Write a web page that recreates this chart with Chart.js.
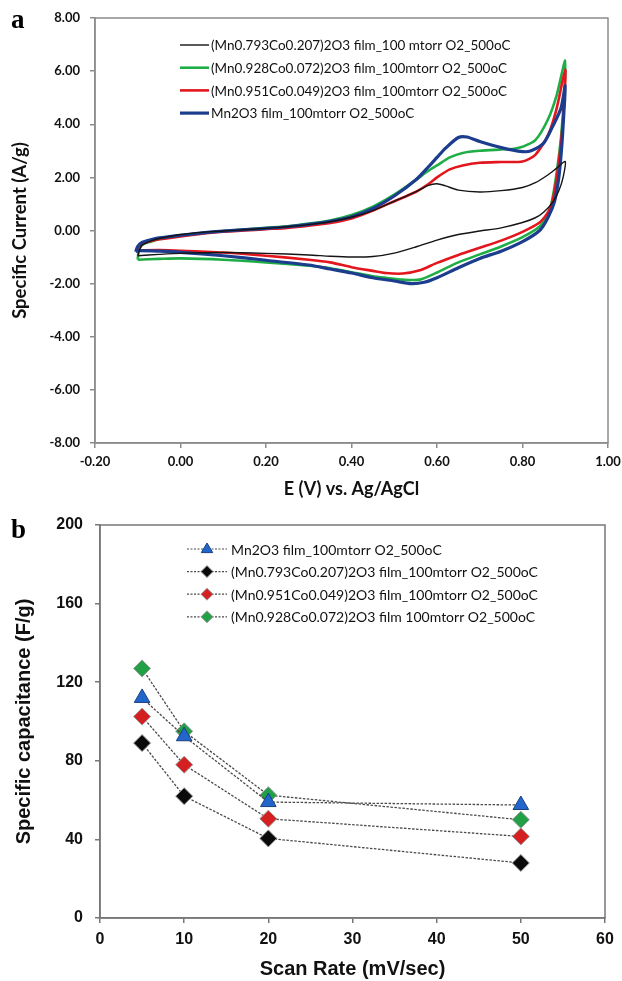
<!DOCTYPE html>
<html><head><meta charset="utf-8">
<script src="https://cdn.jsdelivr.net/npm/chart.js@4.4.1/dist/chart.umd.min.js"></script>
<style>
html,body{margin:0;padding:0;background:#fff;}
#wrap{position:relative;width:622px;height:981px;overflow:hidden;background:#fff;}
.panel{position:absolute;left:0;width:622px;}
.lbl{position:absolute;font-family:"Liberation Serif","DejaVu Serif",serif;font-weight:bold;font-size:27px;line-height:27px;}
</style></head><body>
<div id="wrap">
<div class="panel" style="top:0;height:500px"><canvas id="cA" width="622" height="500"></canvas></div>
<div class="panel" style="top:500px;height:481px"><canvas id="cB" width="622" height="481"></canvas></div>
<div class="lbl" style="left:11px;top:6px">a</div>
<div class="lbl" style="left:11px;top:516px">b</div>
</div>
<script>
// ---------- Panel a: cyclic voltammograms ----------
const cvXTicks = [-0.2, 0.0, 0.2, 0.4, 0.6, 0.8, 1.0];
const cvYTicks = [-8, -6, -4, -2, 0, 2, 4, 6, 8];

const cvLabels = [
  "(Mn0.793Co0.207)2O3 film_100 mtorr O2_500oC",
  "(Mn0.928Co0.072)2O3 film_100mtorr O2_500oC",
  "(Mn0.951Co0.049)2O3 film_100mtorr O2_500oC",
  "Mn2O3 film_100mtorr O2_500oC"
];

// black: (Mn0.793Co0.207)2O3
const cv793E = [-0.10,-0.095,-0.09,-0.07,-0.05,0.00,0.05,0.10,0.15,0.20,0.25,0.30,0.35,0.40,0.45,0.50,0.55,0.58,0.60,0.62,0.65,0.70,0.75,0.80,0.83,0.86,0.88,0.90,
  0.895,0.885,0.87,0.85,0.83,0.80,0.75,0.70,0.65,0.60,0.55,0.50,0.45,0.40,0.35,0.30,0.20,0.10,0.00,-0.05,-0.10];
const cv793I = [-0.95,-0.70,-0.55,-0.40,-0.30,-0.15,-0.07,-0.02,0.03,0.08,0.14,0.22,0.33,0.50,0.75,1.10,1.45,1.70,1.76,1.68,1.52,1.45,1.50,1.62,1.80,2.10,2.35,2.60,
  2.00,1.50,1.05,0.70,0.48,0.30,0.10,-0.02,-0.15,-0.36,-0.62,-0.85,-0.98,-1.00,-0.97,-0.92,-0.86,-0.83,-0.86,-0.90,-0.95];

// green: (Mn0.928Co0.072)2O3
const cv928E = [-0.10,-0.098,-0.09,-0.07,-0.05,0.00,0.05,0.10,0.15,0.20,0.25,0.30,0.35,0.40,0.45,0.50,0.55,0.58,0.60,0.63,0.66,0.70,0.75,0.78,0.80,0.83,0.86,0.88,0.90,
  0.897,0.89,0.88,0.87,0.86,0.84,0.80,0.75,0.70,0.65,0.60,0.56,0.52,0.48,0.45,0.40,0.35,0.30,0.20,0.10,0.00,-0.05,-0.10];
const cv928I = [-1.10,-0.80,-0.55,-0.42,-0.33,-0.20,-0.10,-0.02,0.04,0.10,0.16,0.26,0.38,0.58,0.90,1.35,1.90,2.25,2.45,2.75,2.92,3.00,3.05,3.08,3.15,3.40,4.20,5.10,6.40,
  5.00,3.50,2.20,1.20,0.60,0.15,-0.25,-0.60,-0.90,-1.20,-1.58,-1.85,-1.85,-1.78,-1.72,-1.57,-1.42,-1.33,-1.20,-1.10,-1.05,-1.07,-1.10];

// red: (Mn0.951Co0.049)2O3
const cv951E = [-0.10,-0.095,-0.09,-0.07,-0.05,0.00,0.05,0.10,0.15,0.20,0.25,0.30,0.35,0.40,0.45,0.50,0.55,0.58,0.60,0.63,0.66,0.70,0.75,0.80,0.83,0.86,0.88,0.90,
  0.897,0.89,0.88,0.87,0.86,0.84,0.80,0.75,0.70,0.65,0.60,0.56,0.52,0.48,0.45,0.40,0.35,0.30,0.20,0.10,0.00,-0.05,-0.10];
const cv951I = [-0.75,-0.60,-0.50,-0.40,-0.33,-0.22,-0.12,-0.05,0.00,0.05,0.10,0.18,0.28,0.45,0.75,1.10,1.45,1.75,2.00,2.30,2.45,2.55,2.58,2.60,2.85,3.60,4.60,6.05,
  4.70,3.30,2.00,1.10,0.70,0.30,-0.05,-0.38,-0.65,-0.92,-1.22,-1.50,-1.62,-1.60,-1.52,-1.38,-1.20,-1.10,-0.95,-0.83,-0.76,-0.74,-0.75];

// blue: Mn2O3
const cvMnE = [-0.105,-0.10,-0.09,-0.07,-0.05,0.00,0.05,0.10,0.15,0.20,0.25,0.30,0.35,0.40,0.45,0.50,0.55,0.58,0.60,0.62,0.65,0.67,0.70,0.75,0.80,0.82,0.85,0.87,0.89,0.90,
  0.897,0.892,0.885,0.875,0.86,0.84,0.80,0.75,0.70,0.65,0.60,0.57,0.54,0.50,0.45,0.40,0.35,0.30,0.20,0.10,0.00,-0.05,-0.10,-0.105];
const cvMnI = [-0.80,-0.60,-0.45,-0.35,-0.28,-0.18,-0.09,-0.02,0.03,0.08,0.14,0.23,0.35,0.52,0.83,1.30,1.90,2.40,2.75,3.10,3.50,3.52,3.35,3.12,2.97,3.00,3.30,3.90,4.60,5.45,
  4.50,3.20,2.00,1.10,0.50,0.00,-0.42,-0.78,-1.05,-1.40,-1.78,-1.95,-2.00,-1.90,-1.78,-1.60,-1.45,-1.30,-1.12,-0.95,-0.82,-0.78,-0.76,-0.80];

// ---------- Panel b: specific capacitance ----------
const scanRates = [5, 10, 20, 50];
const capLabels = [
  "Mn2O3 film_100mtorr O2_500oC",
  "(Mn0.793Co0.207)2O3 film_100mtorr O2_500oC",
  "(Mn0.951Co0.049)2O3 film_100mtorr O2_500oC",
  "(Mn0.928Co0.072)2O3 film 100mtorr O2_500oC"
];
const capMn2O3 = [112, 92.5, 59, 57.5];
const cap793 = [89, 62, 40.5, 28];
const cap951 = [102.5, 78, 50.5, 41.5];
const cap928 = [127, 95, 62.5, 50];
const capXTicks = [0, 10, 20, 30, 40, 50, 60];
const capYTicks = [0, 40, 80, 120, 160, 200];

function pts(xs, ys) { return xs.map((x, i) => ({x: x, y: ys[i]})); }

function drawMarker(ctx, style, x, y, r, fill, stroke) {
  ctx.save();
  ctx.beginPath();
  if (style === 'triangle') {
    ctx.moveTo(x, y - r);
    ctx.lineTo(x + r * 0.95, y + r * 0.6);
    ctx.lineTo(x - r * 0.95, y + r * 0.6);
  } else {
    ctx.moveTo(x, y - r); ctx.lineTo(x + r, y); ctx.lineTo(x, y + r); ctx.lineTo(x - r, y);
  }
  ctx.closePath();
  ctx.fillStyle = fill; ctx.fill();
  ctx.strokeStyle = stroke; ctx.lineWidth = 1; ctx.stroke();
  ctx.restore();
}

const frame = {
  id: 'frame',
  afterDraw(chart, args, o) {
    const a = chart.chartArea, ctx = chart.ctx;
    ctx.save();
    ctx.strokeStyle = o.color; ctx.lineWidth = o.width;
    ctx.strokeRect(a.left, a.top, a.right - a.left, a.bottom - a.top);
    ctx.restore();
  }
};

const inLegend = {
  id: 'inLegend',
  afterDraw(chart, args, o) {
    const ctx = chart.ctx;
    ctx.save();
    ctx.font = o.font;
    ctx.textBaseline = 'middle';
    chart.data.datasets.forEach((ds, i) => {
      const y = o.y + i * o.rowH;
      ctx.save();
      ctx.strokeStyle = o.lineColor || ds.borderColor;
      ctx.lineWidth = o.lineWidth || ds.borderWidth;
      if (o.dash) ctx.setLineDash(o.dash);
      ctx.beginPath(); ctx.moveTo(o.x, y); ctx.lineTo(o.x + o.lineLen, y); ctx.stroke();
      ctx.restore();
      if (o.marker) drawMarker(ctx, ds.pointStyle, o.x + o.lineLen / 2, y, o.markerR, ds.pointBackgroundColor, ds.pointBorderColor);
      ctx.fillStyle = '#111';
      ctx.fillText(ds.label, o.x + o.lineLen + o.gap, y + 1);
    });
    ctx.restore();
  }
};

const axisGray = '#8c8c8c';

new Chart(document.getElementById('cA'), {
  type: 'scatter',
  data: {
    datasets: [
      {label: cvLabels[0], data: pts(cv793E, cv793I), borderColor: '#141414', borderWidth: 1.4, order: 0},
      {label: cvLabels[1], data: pts(cv928E, cv928I), borderColor: '#1fae45', borderWidth: 2.6, order: 3},
      {label: cvLabels[2], data: pts(cv951E, cv951I), borderColor: '#e3161d', borderWidth: 2.6, order: 2},
      {label: cvLabels[3], data: pts(cvMnE, cvMnI), borderColor: '#1c3c8e', borderWidth: 3.2, order: 1}
    ].map(d => Object.assign(d, {showLine: true, pointRadius: 0, tension: 0.25, fill: false}))
  },
  options: {
    responsive: false, animation: false,
    layout: {padding: {left: 0, right: 14, top: 18, bottom: 0}},
    plugins: {
      legend: {display: false}, tooltip: {enabled: false},
      frame: {color: axisGray, width: 1.5},
      inLegend: {x: 180, y: 45, rowH: 22.7, lineLen: 29, gap: 2, font: '13.5px Lato'}
    },
    scales: {
      x: {
        type: 'linear', min: -0.2, max: 1.0,
        afterBuildTicks: s => { s.ticks = cvXTicks.map(v => ({value: v})); },
        afterFit: s => { s.height = 57; s.paddingLeft = 0; s.paddingRight = 0; },
        ticks: {callback: v => v.toFixed(2), color: '#111', font: {family: 'Lato', weight: 'bold', size: 13}, padding: 6, maxRotation: 0, autoSkip: false},
        grid: {display: true, drawOnChartArea: false, drawTicks: true, tickLength: 5, color: axisGray, lineWidth: 1.5},
        border: {display: true, color: axisGray, width: 1.5},
        title: {display: true, text: 'E (V) vs. Ag/AgCl', color: '#111', font: {family: 'Lato', weight: 'bold', size: 18}, padding: {top: 0, bottom: 0}}
      },
      y: {
        type: 'linear', min: -8, max: 8,
        afterBuildTicks: s => { s.ticks = cvYTicks.map(v => ({value: v})); },
        afterFit: s => { s.width = 95; s.paddingTop = 0; s.paddingBottom = 0; },
        ticks: {callback: v => v.toFixed(2), color: '#111', font: {family: 'Lato', weight: 'bold', size: 13}, padding: 10, autoSkip: false},
        grid: {display: true, drawOnChartArea: false, drawTicks: true, tickLength: 5, color: axisGray, lineWidth: 1.5},
        border: {display: true, color: axisGray, width: 1.5},
        title: {display: true, text: 'Specific Current (A/g)', color: '#111', font: {family: 'Lato', weight: 'bold', size: 18.5}, padding: {top: 9, bottom: 0}}
      }
    }
  },
  plugins: [frame, inLegend]
});

const lineGray = '#4a4a4a';
new Chart(document.getElementById('cB'), {
  type: 'scatter',
  data: {
    datasets: [
      {label: capLabels[0], data: pts(scanRates, capMn2O3), pointStyle: 'triangle', pointRadius: 9, pointBackgroundColor: '#2266cc', pointBorderColor: '#1a3f80'},
      {label: capLabels[1], data: pts(scanRates, cap793), pointStyle: 'rectRot', pointRadius: 8.5, pointBackgroundColor: '#0a0a0a', pointBorderColor: '#9a9a9a'},
      {label: capLabels[2], data: pts(scanRates, cap951), pointStyle: 'rectRot', pointRadius: 8.5, pointBackgroundColor: '#d42020', pointBorderColor: '#9a9a9a'},
      {label: capLabels[3], data: pts(scanRates, cap928), pointStyle: 'rectRot', pointRadius: 8.5, pointBackgroundColor: '#22a045', pointBorderColor: '#9a9a9a'}
    ].map(d => Object.assign(d, {showLine: true, borderColor: lineGray, borderWidth: 1.3, borderDash: [2.5, 1.5], pointBorderWidth: 1, tension: 0, fill: false}))
  },
  options: {
    responsive: false, animation: false,
    layout: {padding: {left: 0, right: 17, top: 25, bottom: 0}},
    plugins: {
      legend: {display: false}, tooltip: {enabled: false},
      frame: {color: '#777', width: 1.5},
      inLegend: {x: 187, y: 49, rowH: 22.6, lineLen: 40, gap: 4, font: '14px Lato', marker: true, markerR: 6, dash: [2, 1.5], lineColor: lineGray, lineWidth: 1.2}
    },
    scales: {
      x: {
        type: 'linear', min: 0, max: 60,
        afterBuildTicks: s => { s.ticks = capXTicks.map(v => ({value: v})); },
        afterFit: s => { s.height = 63; s.paddingLeft = 0; s.paddingRight = 0; },
        ticks: {color: '#111', font: {family: 'Liberation Sans', weight: 'bold', size: 16}, padding: 7, maxRotation: 0, autoSkip: false},
        grid: {display: true, drawOnChartArea: false, drawTicks: true, tickLength: 5, color: '#777', lineWidth: 1.5},
        border: {display: true, color: '#777', width: 1.5},
        title: {display: true, text: 'Scan Rate (mV/sec)', color: '#111', font: {family: 'Liberation Sans', weight: 'bold', size: 20}, padding: {top: 0, bottom: 0}}
      },
      y: {
        type: 'linear', min: 0, max: 200,
        afterBuildTicks: s => { s.ticks = capYTicks.map(v => ({value: v})); },
        afterFit: s => { s.width = 100; s.paddingTop = 0; s.paddingBottom = 0; },
        ticks: {color: '#111', font: {family: 'Liberation Sans', weight: 'bold', size: 16}, padding: 12, autoSkip: false},
        grid: {display: true, drawOnChartArea: false, drawTicks: true, tickLength: 5, color: '#777', lineWidth: 1.5},
        border: {display: true, color: '#777', width: 1.5},
        title: {display: true, text: 'Specific capacitance (F/g)', color: '#111', font: {family: 'Liberation Sans', weight: 'bold', size: 20}, padding: {top: 12, bottom: 0}}
      }
    }
  },
  plugins: [frame, inLegend]
});
</script>
</body></html>
